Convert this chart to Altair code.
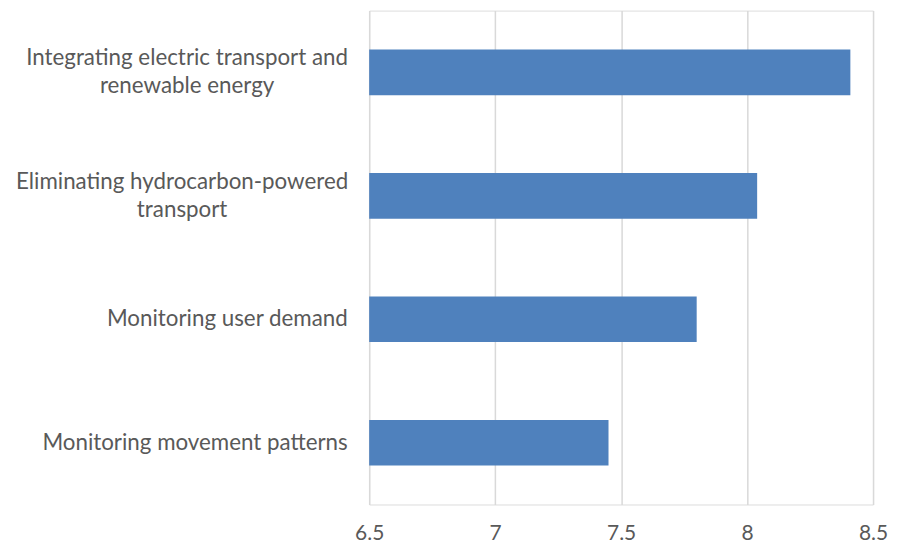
import altair as alt
import pandas as pd

categories = [
    "Integrating electric transport and|renewable energy",
    "Eliminating hydrocarbon-powered|transport",
    "Monitoring user demand",
    "Monitoring movement patterns",
]
values = [8.41, 8.04, 7.80, 7.45]
x_ticks = [6.5, 7, 7.5, 8, 8.5]

df = pd.DataFrame({"category": categories, "value": values})

FONT = "Lato"
TEXT = "#595959"
FS = 22.4

multi_test = "indexof(datum.value, '|') >= 0"

chart = (
    alt.Chart(df)
    .mark_bar(color="#4F81BD")
    .encode(
        x=alt.X(
            "value:Q",
            scale=alt.Scale(domain=[6.5, 8.5], nice=False, zero=False),
            axis=alt.Axis(
                values=x_ticks,
                format="~g",
                title=None,
                domain=False,
                ticks=False,
                grid=True,
                gridColor="#D9D9D9",
                gridWidth=1.5,
                labelFont=FONT,
                labelFontSize=21,
                labelColor=TEXT,
                labelPadding=18,
                labelFlush=False,
            ),
        ),
        x2=alt.datum(6.5),
        y=alt.Y(
            "category:N",
            sort=categories,
            scale=alt.Scale(paddingInner=0.63, paddingOuter=0.315),
            axis=alt.Axis(
                title=None,
                domain=False,
                ticks=False,
                grid=False,
                labelFont=FONT,
                labelFontSize=FS,
                labelColor=TEXT,
                labelAlign={
                    "condition": {"test": multi_test, "value": "center"},
                    "value": "right",
                },
                labelOffset={
                    "condition": {"test": multi_test, "value": -14},
                    "value": 0,
                },
                labelPadding={
                    "condition": [
                        {"test": "datum.value == '" + categories[0] + "'", "value": 183},
                        {"test": "datum.value == '" + categories[1] + "'", "value": 188},
                    ],
                    "value": 22,
                },
                labelLimit=400,
                labelLineHeight=28,
                labelExpr="split(datum.label, '|')",
            ),
        ),
    )
    .properties(
        width=505,
        height=495,
        autosize=alt.AutoSizeParams(type="none"),
        padding={"left": 362, "top": 2, "right": 16, "bottom": 40},
    )
    .configure_view(stroke=None)
    .configure(background="white")
)

chart.save("out.html", embed_options={"renderer": "svg", "actions": False})
